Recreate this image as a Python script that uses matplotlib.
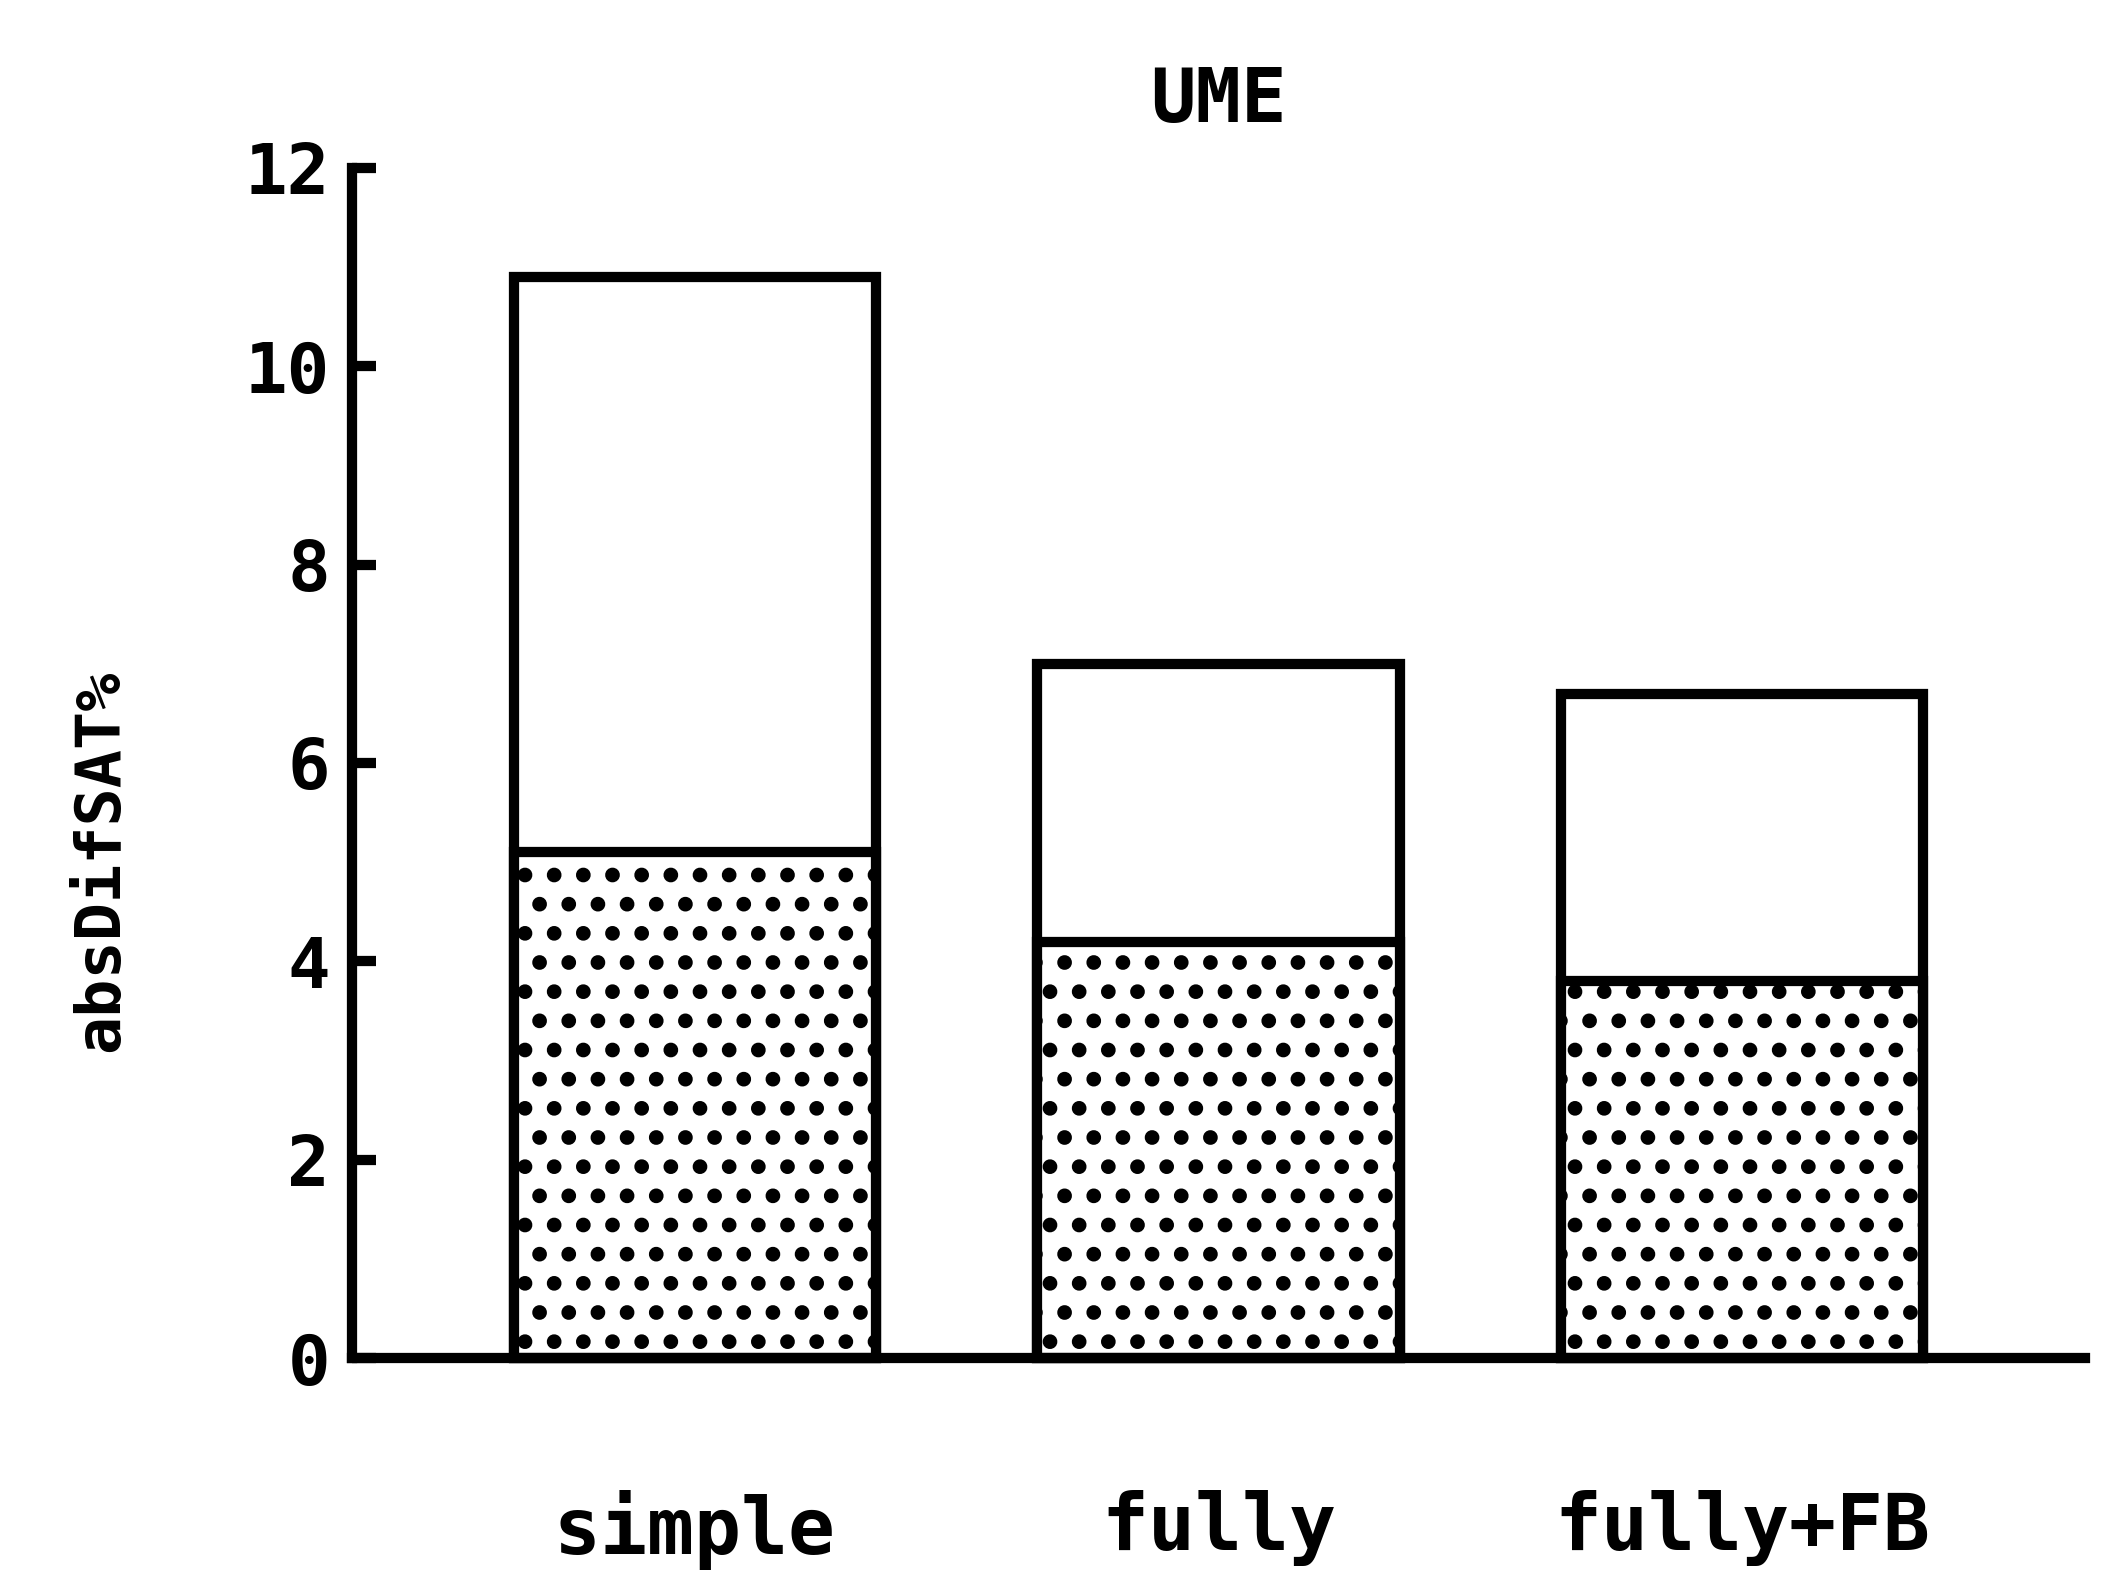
import matplotlib
matplotlib.use("Agg")
import matplotlib.pyplot as plt
import numpy as np

# Data
categories = ["simple", "fully", "fully+FB"]
total_values = [10.9, 7.0, 6.7]     # full bar height (open part on top)
dotted_values = [5.1, 4.2, 3.8]     # stippled lower part
y_ticks = [0, 2, 4, 6, 8, 10, 12]

DPI = 175.75
W_PX, H_PX = 2109, 1588

plt.rcParams["font.family"] = ["DejaVu Sans Mono"]
plt.rcParams["font.weight"] = "bold"
plt.rcParams["hatch.linewidth"] = 3.6
plt.rcParams["hatch.color"] = "black"

fig = plt.figure(figsize=(W_PX / DPI, H_PX / DPI), dpi=DPI)
left, right, bottom, top = 352, 2085, 1358, 168
ax = fig.add_axes([left / W_PX, 1 - bottom / H_PX,
                   (right - left) / W_PX, (bottom - top) / H_PX])

x = np.arange(len(categories))
bar_w = 0.693
lw = 4.2

ax.bar(x, total_values, width=bar_w, facecolor="white", edgecolor="black",
       linewidth=lw, zorder=2, clip_on=False)
ax.bar(x, dotted_values, width=bar_w, facecolor="white", edgecolor="black",
       linewidth=lw, hatch=".", zorder=3, clip_on=False)

ax.set_xlim(-0.655, 2.655)
ax.set_ylim(0, 12)

for side in ("top", "right"):
    ax.spines[side].set_visible(False)
for side in ("left", "bottom"):
    ax.spines[side].set_linewidth(lw)
    ax.spines[side].set_zorder(4)

ax.set_yticks(y_ticks)
ax.set_yticklabels([str(t) for t in y_ticks])
ax.tick_params(axis="y", direction="in", length=10, width=lw, pad=9,
               labelsize=29)

ax.set_xticks(x)
ax.set_xticklabels(categories)
ax.tick_params(axis="x", length=0, pad=54, labelsize=32)

ax.set_title("UME", fontsize=31, fontweight="bold", pad=19)

ax.set_ylabel("absDifSAT%", fontsize=26, fontweight="bold")
ax.yaxis.label.set_va("center")
ax.yaxis.set_label_coords(-0.145, 0.418)

fig.savefig("out.png", dpi=DPI, facecolor="white")
